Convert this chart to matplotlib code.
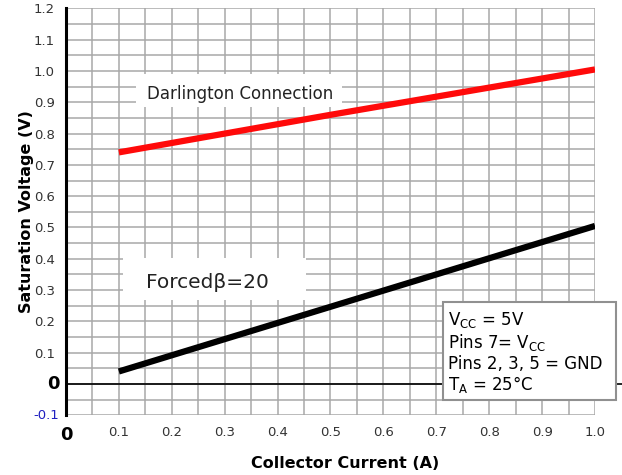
import matplotlib
matplotlib.use("Agg")
import matplotlib.pyplot as plt
from matplotlib.patches import Rectangle
import numpy as np

# data
darl_x = [0.1, 0.5, 1.0]
darl_y = [0.74, 0.86, 1.005]
forced_x = [0.1, 1.0]
forced_y = [0.04, 0.505]
xtick_vals = [0.1, 0.2, 0.3, 0.4, 0.5, 0.6, 0.7, 0.8, 0.9, 1.0]
xtick_labels = ["0.1", "0.2", "0.3", "0.4", "0.5", "0.6", "0.7", "0.8", "0.9", "1.0"]
ytick_vals = [0.1, 0.2, 0.3, 0.4, 0.5, 0.6, 0.7, 0.8, 0.9, 1.0, 1.1, 1.2]
ytick_labels = ["0.1", "0.2", "0.3", "0.4", "0.5", "0.6", "0.7", "0.8", "0.9", "1.0", "1.1", "1.2"]

fig = plt.figure(figsize=(6.22, 4.75), dpi=100)
ax = fig.add_axes([0.106, 0.1257, 0.8506, 0.8566])
ax.set_xlim(0, 1.0)
ax.set_ylim(-0.1, 1.2)

grid_c = "#a8a8a8"
for gx in np.arange(0.05, 1.0001, 0.05):
    ax.axvline(gx, color=grid_c, lw=1.1, zorder=1)
for gy in np.arange(-0.1, 1.2001, 0.05):
    ax.axhline(gy, color=grid_c, lw=1.1, zorder=1)

for s in ["top", "right", "bottom"]:
    ax.spines[s].set_visible(False)
ax.spines["left"].set_linewidth(2.2)
ax.spines["left"].set_zorder(5)

# zero line extending beyond axes
ax.plot([0, 1.06], [0, 0], color="black", lw=1.2, clip_on=False, zorder=3)

ax.plot(darl_x, darl_y, color="#ff0a0a", lw=4.5, solid_capstyle="butt", zorder=4)
ax.plot(forced_x, forced_y, color="black", lw=4.5, solid_capstyle="butt", zorder=4)

ax.set_xticks(xtick_vals)
ax.set_xticklabels(xtick_labels, color="#333333", fontsize=9.5)
ax.set_yticks(ytick_vals)
ax.set_yticklabels(ytick_labels, color="#333333", fontsize=9.5)
ax.tick_params(length=0, pad=8)

# special tick labels
ax.text(-0.012, 0, "0", ha="right", va="center",
        fontsize=13, fontweight="bold", color="black")
ax.text(-0.012, -0.1, "-0.1", ha="right", va="center", fontsize=9.5, color="#2020c0")
ax.text(0.0, -0.135, "0", ha="center", va="top", fontsize=13, fontweight="bold", color="black")

ax.set_xlabel("Collector Current (A)", fontsize=11.5, fontweight="bold", labelpad=10)
ax.xaxis.set_label_coords(0.527, -0.1)
ax.set_ylabel("Saturation Voltage (V)", fontsize=11.5, fontweight="bold", labelpad=0)

# Darlington label box
ax.add_patch(Rectangle((0.132, 0.885), 0.39, 0.105, facecolor="white", edgecolor="none", zorder=5))
ax.text(0.33, 0.925, "Darlington Connection", ha="center", va="center", fontsize=12,
        color="#222222", zorder=6)

# Forced beta box
ax.add_patch(Rectangle((0.108, 0.268), 0.346, 0.135, facecolor="white", edgecolor="none", zorder=5))
ax.text(0.268, 0.325, "Forced\u03b2=20", ha="center", va="center", fontsize=14.5,
        color="#222222", zorder=6)

# conditions box
ax.add_patch(Rectangle((0.713, -0.05), 0.327, 0.313, facecolor="white", edgecolor="#909090",
                       lw=1.5, zorder=5, clip_on=False))
ax.text(0.723, 0.1, "V$_{\\mathregular{CC}}$ = 5V\nPins 7= V$_{\\mathregular{CC}}$\nPins 2, 3, 5 = GND\nT$_{\\mathregular{A}}$ = 25\u00b0C",
        ha="left", va="center", fontsize=12, color="black", linespacing=1.12, zorder=6,
        clip_on=False)

fig.savefig("out.png", dpi=100)
